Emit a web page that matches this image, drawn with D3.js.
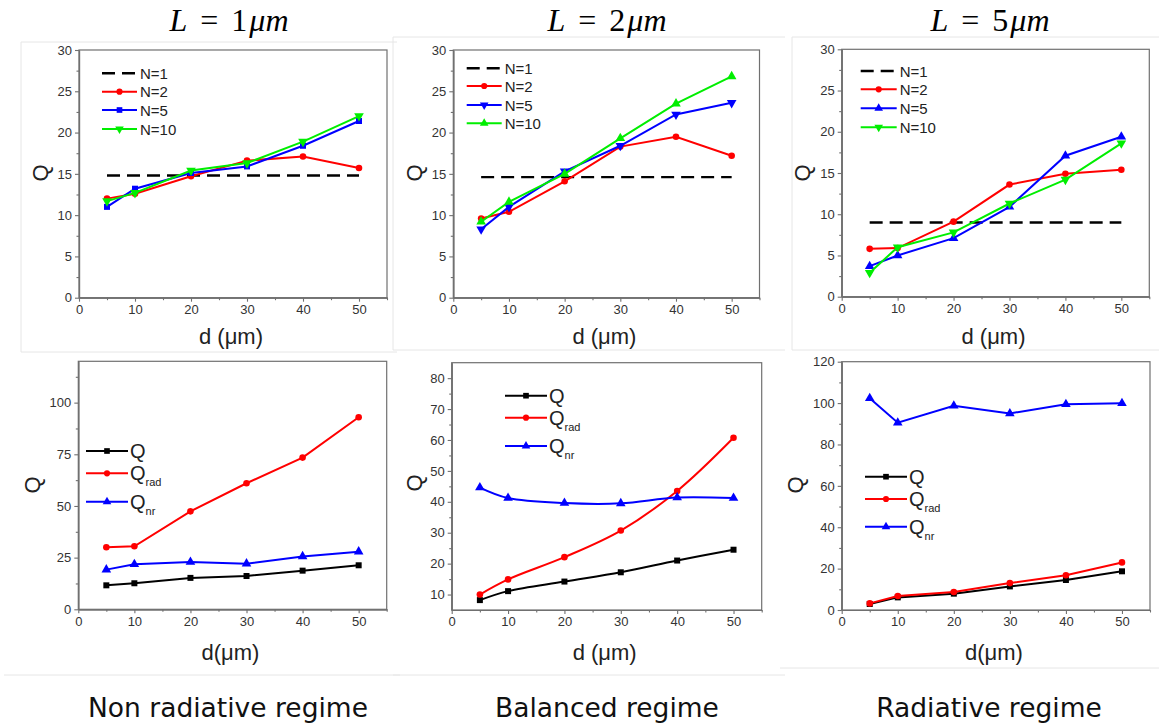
<!DOCTYPE html>
<html><head><meta charset="utf-8">
<script src="https://cdn.jsdelivr.net/npm/d3@7"></script>
<style>body{margin:0;background:#fff}</style>
</head><body>
<svg id="c" width="1159" height="728" xmlns="http://www.w3.org/2000/svg"></svg>
<script>
// ---------- DATA ----------
const dValues = [5, 10, 20, 30, 40, 50];
const xMajorTicks = [0, 10, 20, 30, 40, 50];
const xMinorTicks = [5, 15, 25, 35, 45, 55];

// top row: Q vs d for N = 1, 2, 5, 10
const L1_N1 = [14.8, 14.8, 14.8, 14.8, 14.8, 14.8];
const L1_N2 = [12.0, 12.6, 14.7, 16.6, 17.1, 15.7];
const L1_N5 = [11.0, 13.2, 15.1, 15.9, 18.4, 21.4];
const L1_N10 = [11.7, 12.7, 15.4, 16.3, 18.9, 22.0];

const L2_N1 = [14.6, 14.6, 14.6, 14.6, 14.6, 14.6];
const L2_N2 = [9.6, 10.4, 14.1, 18.3, 19.5, 17.2];
const L2_N5 = [8.3, 11.0, 15.3, 18.4, 22.2, 23.6];
const L2_N10 = [9.2, 11.6, 15.0, 19.3, 23.5, 26.8];

const L5_N1 = [9.0, 9.0, 9.0, 9.0, 9.0, 9.0];
const L5_N2 = [5.8, 5.9, 9.1, 13.6, 14.9, 15.4];
const L5_N5 = [3.7, 5.0, 7.1, 10.9, 17.1, 19.4];
const L5_N10 = [2.9, 6.0, 7.8, 11.3, 14.2, 18.6];

// bottom row: Q, Qrad, Qnr vs d
const nonrad_Q = [11.6, 12.6, 15.2, 16.1, 18.7, 21.3];
const nonrad_Qrad = [30.0, 30.5, 47.4, 61.0, 73.4, 92.9];
const nonrad_Qnr = [19.2, 21.8, 22.9, 22.1, 25.6, 27.9];

const bal_Q = [8.2, 11.1, 14.2, 17.2, 21.0, 24.5];
const bal_Qrad = [10.0, 14.9, 22.1, 30.7, 43.5, 60.7];
const bal_Qnr = [44.6, 41.2, 39.6, 39.5, 41.4, 41.2];

const rad_Q = [2.9, 6.1, 7.9, 11.4, 14.5, 18.7];
const rad_Qrad = [3.2, 6.8, 8.7, 13.0, 16.8, 23.0];
const rad_Qnr = [102.3, 90.5, 98.7, 95.0, 99.4, 99.9];

const topLegendLabels = ["N=1", "N=2", "N=5", "N=10"];
const bottomLegendSubs = ["", "rad", "nr"];
const titleValues = ["1", "2", "5"];
const captions = ["Non radiative regime", "Balanced regime", "Radiative regime"];

const topYTicks = [0, 5, 10, 15, 20, 25, 30];
const topYMinor = [2.5, 7.5, 12.5, 17.5, 22.5, 27.5];
const nonradYTicks = [0, 25, 50, 75, 100];
const nonradYMinor = [12.5, 37.5, 62.5, 87.5, 112.5];
const balYTicks = [10, 20, 30, 40, 50, 60, 70, 80];
const balYMinor = [15, 25, 35, 45, 55, 65, 75];
const radYTicks = [0, 20, 40, 60, 80, 100, 120];
const radYMinor = [10, 30, 50, 70, 90, 110];

// ---------- DRAW ----------
const svg = d3.select("#c");
const RED = "#ff0000", BLUE = "#0000ff", GREEN = "#00ee00", BLACK = "#000000";
const SANS = "'Liberation Sans', Arial, sans-serif";

// faint image borders
const faint = svg.append("g").attr("stroke", "#e6e6e6").attr("stroke-width", 1).attr("fill", "none");
[[21,42,397,42],[21,42,21,352],[21,352,397,352],
 [393,37,785,37],[393,37,393,350],[393,350,785,350],
 [792,37,1159,37],[792,37,792,350],[792,350,1159,350],
 [4,675,400,675],[393,675,785,675],[780,668,1159,668]].forEach(l=>{
  faint.append("line").attr("x1",l[0]).attr("y1",l[1]).attr("x2",l[2]).attr("y2",l[3]);
});

function marker(type, size) {
  const map = {circle: d3.symbolCircle, square: d3.symbolSquare, up: d3.symbolTriangle, down: d3.symbolTriangle};
  return d3.symbol().type(map[type]).size(size)();
}

const panels = [
  {x0:79, x1:387, yT:50, yB:297.7, dom:[0,30], maj:topYTicks, min:topYMinor, xl:"d (μm)", xlY:344, qx:48, qy:173,
   series:[{v:L1_N1,c:BLACK,m:null,dash:true},{v:L1_N2,c:RED,m:"circle"},{v:L1_N5,c:BLUE,m:"square"},{v:L1_N10,c:GREEN,m:"down"}],
   leg:{type:"top", x:102, ys:[73.3,91.7,110,129], len:35}, title:titleValues[0], tx:229},
  {x0:453.3, x1:759.5, yT:50, yB:297.7, dom:[0,30], maj:topYTicks, min:topYMinor, xl:"d (μm)", xlY:344, qx:422, qy:173,
   series:[{v:L2_N1,c:BLACK,m:null,dash:true},{v:L2_N2,c:RED,m:"circle"},{v:L2_N5,c:BLUE,m:"down"},{v:L2_N10,c:GREEN,m:"up"}],
   leg:{type:"top", x:466.7, ys:[68.3,86,105,123.3], len:35}, title:titleValues[1], tx:607},
  {x0:841.7, x1:1149.3, yT:49.3, yB:296.7, dom:[0,30], maj:topYTicks, min:topYMinor, xl:"d (μm)", xlY:344, qx:810, qy:173,
   series:[{v:L5_N1,c:BLACK,m:null,dash:true},{v:L5_N2,c:RED,m:"circle"},{v:L5_N5,c:BLUE,m:"up"},{v:L5_N10,c:GREEN,m:"down"}],
   leg:{type:"top", x:860.7, ys:[71,89.3,108.3,127.3], len:36}, title:titleValues[2], tx:990},
  {x0:78.3, x1:386.7, yT:361.3, yB:609.3, dom:[0,120], maj:nonradYTicks, min:nonradYMinor, xl:"d(μm)", xlY:660, qx:40, qy:485,
   series:[{v:nonrad_Q,c:BLACK,m:"square"},{v:nonrad_Qrad,c:RED,m:"circle"},{v:nonrad_Qnr,c:BLUE,m:"up"}],
   leg:{type:"bottom", x:86, ys:[451,473.3,501.7], len:42}, caption:captions[0], cx:228},
  {x0:451.7, x1:761.7, yT:362.7, yB:610, dom:[5,85], maj:balYTicks, min:balYMinor, xl:"d (μm)", xlY:660, qx:422, qy:483, curve:true,
   series:[{v:bal_Q,c:BLACK,m:"square"},{v:bal_Qrad,c:RED,m:"circle"},{v:bal_Qnr,c:BLUE,m:"up"}],
   leg:{type:"bottom", x:505, ys:[395.7,417.7,446], len:42}, caption:captions[1], cx:607},
  {x0:841.7, x1:1150, yT:361.7, yB:610, dom:[0,120], maj:radYTicks, min:radYMinor, xl:"d(μm)", xlY:660, qx:803, qy:485,
   series:[{v:rad_Q,c:BLACK,m:"square"},{v:rad_Qrad,c:RED,m:"circle"},{v:rad_Qnr,c:BLUE,m:"up"}],
   leg:{type:"bottom", x:865, ys:[476.7,499,526.7], len:42}, caption:captions[2], cx:989},
];

panels.forEach((p, pi) => {
  const x = d3.scaleLinear().domain([0,55]).range([p.x0, p.x1]);
  const y = d3.scaleLinear().domain(p.dom).range([p.yB, p.yT]);
  const g = svg.append("g");

  // frame
  g.append("rect").attr("x", p.x0).attr("y", p.yT).attr("width", p.x1 - p.x0).attr("height", p.yB - p.yT)
    .attr("fill", "none").attr("stroke", "#707070").attr("stroke-width", 1.2);

  // axes
  g.append("g").attr("transform", `translate(0,${p.yB})`)
    .call(d3.axisBottom(x).tickValues(xMajorTicks).tickSize(4).tickPadding(3).tickSizeOuter(0));
  g.append("g").attr("transform", `translate(0,${p.yB})`)
    .call(d3.axisBottom(x).tickValues(xMinorTicks).tickSize(2.5).tickFormat("").tickSizeOuter(0));
  g.append("g").attr("transform", `translate(${p.x0},0)`)
    .call(d3.axisLeft(y).tickValues(p.maj).tickSize(4).tickPadding(3).tickSizeOuter(0));
  g.append("g").attr("transform", `translate(${p.x0},0)`)
    .call(d3.axisLeft(y).tickValues(p.min).tickSize(2.5).tickFormat("").tickSizeOuter(0));
  g.selectAll(".domain").attr("stroke", "#707070").attr("stroke-width", 1.2);
  g.selectAll(".tick line").attr("stroke", "#707070").attr("stroke-width", 1.1);
  g.selectAll(".tick text").attr("font-family", SANS).attr("font-size", 13).attr("fill", "#333");

  // labels
  g.append("text").attr("x", (p.x0 + p.x1) / 2 - 2).attr("y", p.xlY).attr("text-anchor", "middle")
    .attr("font-family", SANS).attr("font-size", 22).attr("fill", "#222").text(p.xl);
  g.append("text").attr("transform", `translate(${p.qx},${p.qy}) rotate(-90)`).attr("text-anchor", "middle")
    .attr("font-family", SANS).attr("font-size", 22).attr("fill", "#222").text("Q");

  // series
  const line = d3.line().x((d, i) => x(dValues[i])).y(d => y(d));
  if (p.curve) line.curve(d3.curveCatmullRom.alpha(0.5));
  p.series.forEach(s => {
    g.append("path").datum(s.v).attr("d", line).attr("fill", "none").attr("stroke", s.c)
      .attr("stroke-width", s.dash ? 2.4 : 2).attr("stroke-dasharray", s.dash ? "13,7" : null);
    if (s.m) {
      g.selectAll(null).data(s.v).enter().append("path")
        .attr("d", marker(s.m, s.m === "circle" ? 34 : (s.m === "square" ? 36 : 40)))
        .attr("transform", (d, i) => `translate(${x(dValues[i])},${y(d)})${s.m === "down" ? " rotate(180)" : ""}`)
        .attr("fill", s.c);
    }
  });

  // legend
  const lg = p.leg;
  p.series.forEach((s, i) => {
    const yy = lg.ys[i];
    g.append("line").attr("x1", lg.x).attr("x2", lg.x + lg.len).attr("y1", yy).attr("y2", yy)
      .attr("stroke", s.c).attr("stroke-width", s.dash ? 2.4 : 2).attr("stroke-dasharray", s.dash ? "13,7" : null);
    if (s.m) {
      g.append("path").attr("d", marker(s.m, s.m === "circle" ? 30 : 32))
        .attr("transform", `translate(${lg.x + lg.len / 2},${yy})${s.m === "down" ? " rotate(180)" : ""}`)
        .attr("fill", s.c);
    }
    if (lg.type === "top") {
      g.append("text").attr("x", lg.x + lg.len + 3).attr("y", yy + 5.5).attr("font-family", SANS)
        .attr("font-size", 15).attr("fill", "#222").text(topLegendLabels[i]);
    } else {
      const t = g.append("text").attr("x", lg.x + lg.len + 2).attr("y", yy + 7).attr("font-family", SANS)
        .attr("font-size", 20).attr("fill", "#222");
      t.append("tspan").text("Q");
      if (bottomLegendSubs[i]) t.append("tspan").attr("font-size", 11).attr("dy", 6).text(bottomLegendSubs[i]);
    }
  });

  // title
  if (p.title) {
    const t = svg.append("text").attr("x", p.tx).attr("y", 31).attr("text-anchor", "middle")
      .attr("font-family", "'Liberation Serif', 'DejaVu Serif', serif").attr("font-size", 32).attr("fill", "#000");
    t.append("tspan").attr("font-style", "italic").text("L");
    t.append("tspan").attr("dx", 13).text("=");
    t.append("tspan").attr("dx", 13).text(p.title);
    t.append("tspan").attr("font-style", "italic").attr("dx", 2).text("μm");
  }
  if (p.caption) {
    svg.append("text").attr("x", p.cx).attr("y", 717).attr("text-anchor", "middle")
      .attr("font-family", "'DejaVu Sans', Verdana, sans-serif").attr("font-size", 26.5).attr("fill", "#111")
      .text(p.caption);
  }
});
</script>
</body></html>
